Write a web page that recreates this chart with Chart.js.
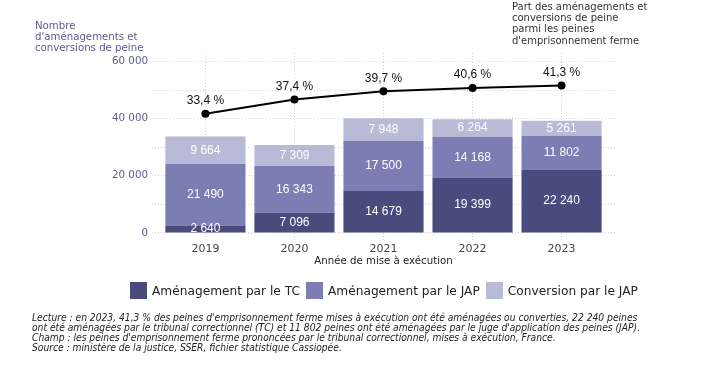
<!DOCTYPE html>
<html>
<head>
<meta charset="utf-8">
<script src="https://cdn.jsdelivr.net/npm/chart.js@4/dist/chart.umd.min.js"></script>
<style>
  html, body { margin: 0; padding: 0; background: #fff; }
  #wrap { position: relative; width: 703px; height: 368px; overflow: hidden; }
  #c { position: absolute; left: 0; top: 0; }
  .t { position: absolute; font-family: "DejaVu Sans", sans-serif; white-space: nowrap; }
  #ytitle { left: 35px; top: 20px; font-size: 10.2px; line-height: 11.2px; color: #5c5c8a; }
  #y2title { left: 512px; top: 1px; font-size: 10px; line-height: 11.2px; color: #333; }
  #xtitle { left: 0; width: 767px; text-align: center; top: 255px; font-size: 10.2px; color: #222; }
  #legend { left: 130px; top: 282px; font-size: 12.2px; color: #222; display: flex; align-items: center; }
  #legend span.sw { display: inline-block; width: 17px; height: 17px; margin-right: 5px; }
  #legend span.lb { margin-right: 6px; }
  #foot { left: 32px; top: 312.5px; font-family: "DejaVu Sans Condensed", "DejaVu Sans", sans-serif; font-style: italic; font-size: 10.2px; line-height: 10.1px; color: #222; }
</style>
</head>
<body>
<div id="wrap">
  <canvas id="c" width="703" height="368"></canvas>
  <div class="t" id="ytitle">Nombre<br>d'aménagements et<br>conversions de peine</div>
  <div class="t" id="y2title">Part des aménagements et<br>conversions de peine<br>parmi les peines<br>d'emprisonnement ferme</div>
  <div class="t" id="xtitle">Année de mise à exécution</div>
  <div class="t" id="legend"></div>
  <div class="t" id="foot">Lecture : en 2023, 41,3 % des peines d'emprisonnement ferme mises à exécution ont été aménagées ou converties, 22 240 peines<br>ont été aménagées par le tribunal correctionnel (TC) et 11 802 peines ont été aménagées par le juge d'application des peines (JAP).<br>Champ : les peines d'emprisonnement ferme prononcées par le tribunal correctionnel, mises à exécution, France.<br>Source : ministère de la justice, SSER, fichier statistique Cassiopée.</div>
</div>
<script>
const years = ['2019', '2020', '2021', '2022', '2023'];
const amenagementTC = [2640, 7096, 14679, 19399, 22240];
const amenagementJAP = [21490, 16343, 17500, 14168, 11802];
const conversionJAP = [9664, 7309, 7948, 6264, 5261];
const partPct = [33.4, 37.4, 39.7, 40.6, 41.3];
const yTicks = [0, 10000, 20000, 30000, 40000, 50000, 60000];
const seriesNames = ['Aménagement par le TC', 'Aménagement par le JAP', 'Conversion par le JAP'];
const colors = ['#4a4b7d', '#7b7db3', '#b9bad6'];

function fmt(n) {
  return String(n).replace(/\B(?=(\d{3})+(?!\d))/g, ' ');
}
function pts(arr) { return arr.map((v, i) => ({ x: i + 1, y: v })); }

// legend (HTML)
const lg = document.getElementById('legend');
seriesNames.forEach((n, i) => {
  const s = document.createElement('span'); s.className = 'sw'; s.style.background = colors[i];
  const l = document.createElement('span'); l.className = 'lb'; l.textContent = n;
  lg.appendChild(s); lg.appendChild(l);
});

const labelPlugin = {
  id: 'labels',
  afterDatasetsDraw(chart) {
    const ctx = chart.ctx;
    ctx.save();
    ctx.textAlign = 'center';
    ctx.textBaseline = 'middle';
    chart.data.datasets.forEach((ds, di) => {
      const meta = chart.getDatasetMeta(di);
      if (ds.type === 'bar') {
        ctx.fillStyle = '#ffffff';
        ctx.font = '12px "Liberation Sans", Arial, sans-serif';
        meta.data.forEach((el, i) => {
          const yc = (el.y + el.base) / 2;
          ctx.fillText(fmt(ds.data[i].y), el.x, yc);
        });
      } else {
        ctx.fillStyle = '#111';
        ctx.font = '12px "Liberation Sans", Arial, sans-serif';
        meta.data.forEach((el, i) => {
          ctx.fillText(String(ds.data[i].y).replace('.', ',') + ' %', el.x, el.y - 13);
        });
      }
    });
    ctx.restore();
  }
};

const gridStyle = { color: '#d4d4d4', lineWidth: 1, drawTicks: false, offset: false };
const borderStyle = { display: false, dash: [1, 2] };

new Chart(document.getElementById('c'), {
  data: {
    datasets: [
      { type: 'line', label: 'Part', data: pts(partPct), yAxisID: 'y2', borderColor: '#000', backgroundColor: '#000',
        borderWidth: 2, pointRadius: 4, pointBackgroundColor: '#000', pointBorderWidth: 0, order: 0, tension: 0 },
      { type: 'bar', label: seriesNames[0], data: pts(amenagementTC), backgroundColor: colors[0], yAxisID: 'y', order: 1, stack: 's' },
      { type: 'bar', label: seriesNames[1], data: pts(amenagementJAP), backgroundColor: colors[1], yAxisID: 'y', order: 1, stack: 's' },
      { type: 'bar', label: seriesNames[2], data: pts(conversionJAP), backgroundColor: colors[2], yAxisID: 'y', order: 1, stack: 's' }
    ]
  },
  options: {
    responsive: false,
    animation: false,
    devicePixelRatio: 1,
    layout: { padding: { top: 53, right: 88, left: 0, bottom: 0 } },
    datasets: { bar: { barPercentage: 0.9, categoryPercentage: 1.0 } },
    plugins: { legend: { display: false }, tooltip: { enabled: false } },
    scales: {
      x: {
        type: 'linear', min: 0.4, max: 5.6, stacked: true, offset: false,
        grid: gridStyle,
        border: borderStyle,
        afterBuildTicks: (s) => { s.ticks = years.map((y, i) => ({ value: i + 1 })); },
        afterFit: (s) => { s.height = 126.5; },
        ticks: {
          padding: 1, color: '#444', font: { family: 'DejaVu Sans', size: 11 },
          callback: (v) => years[Math.round(v) - 1] || ''
        }
      },
      y: {
        type: 'linear', min: -3000, max: 63000, stacked: true,
        grid: gridStyle,
        border: borderStyle,
        afterBuildTicks: (s) => { s.ticks = yTicks.map(v => ({ value: v })); },
        afterFit: (s) => { s.width = 152; },
        ticks: {
          padding: 4, color: '#5c5c8a', font: { family: 'DejaVu Sans', size: 10.3 },
          callback: (v) => (v % 20000 === 0 ? fmt(v) : '')
        }
      },
      y2: {
        type: 'linear', min: -2.4, max: 50.4, display: false, position: 'right', stacked: false
      }
    }
  },
  plugins: [labelPlugin]
});
</script>
</body>
</html>
